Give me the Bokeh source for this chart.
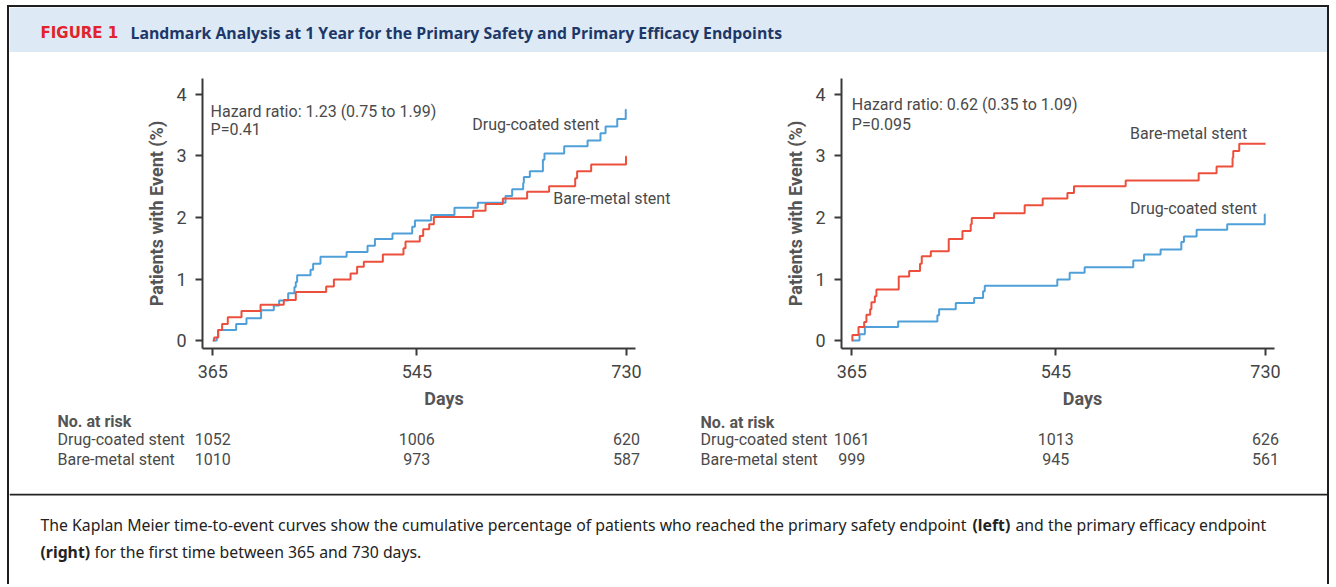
from bokeh.plotting import figure
from bokeh.layouts import column, row
from bokeh.models import Range1d, FixedTicker, Label, Span
from bokeh.embed import file_html
from bokeh.resources import INLINE

# ---------------- data ----------------
x_ticks = [365, 545, 730]
y_ticks = [0, 1, 2, 3, 4]
groups = ["Drug-coated stent", "Bare-metal stent"]

# Left panel: primary safety endpoint
left_dcs_days = [365, 368.5, 369.7, 385.6, 394.7, 407.6, 418.8, 423.5, 431.5, 437.0, 438.2, 439.4,
                 451.2, 453.5, 460.0, 483.0, 501.5, 508.0, 523.5, 540.9, 543.3, 557.6, 578.2, 598.8,
                 623.2, 629.1, 638.8, 639.4, 644.7, 656.2, 657.6, 675.0, 695.6, 707.0, 711.5, 721.8,
                 729.3, 730]
left_dcs_pct = [0, 0.05, 0.17, 0.27, 0.36, 0.49, 0.57, 0.65, 0.77, 0.87, 0.95, 1.06,
                1.15, 1.25, 1.36, 1.44, 1.54, 1.65, 1.74, 1.85, 1.95, 2.04, 2.16, 2.24,
                2.35, 2.46, 2.56, 2.66, 2.75, 2.94, 3.04, 3.16, 3.25, 3.37, 3.48, 3.60,
                3.75, 3.75]
left_bms_days = [365, 366.2, 369.7, 373.2, 378.2, 390.3, 407.1, 427.6, 438.2, 465.0, 471.8, 486.5,
                 492.3, 498.2, 515.0, 533.2, 535.0, 547.6, 550.6, 555.9, 560.0, 594.7, 605.6, 620.9,
                 642.3, 661.7, 684.7, 686.4, 698.8, 729.5, 730]
left_bms_pct = [0, 0.05, 0.17, 0.27, 0.38, 0.48, 0.58, 0.66, 0.79, 0.88, 0.99, 1.09,
                1.20, 1.28, 1.40, 1.50, 1.61, 1.70, 1.81, 1.89, 2.01, 2.11, 2.22, 2.31,
                2.42, 2.51, 2.64, 2.75, 2.86, 2.99, 2.99]

# Right panel: primary efficacy endpoint
right_dcs_days = [365, 371.8, 376.5, 405.9, 440.5, 442.0, 456.7, 472.9, 480.8, 482.3, 546.3,
                  557.2, 570.4, 613.3, 622.8, 637.4, 655.7, 658.0, 669.2, 696.2, 729.3, 730]
right_dcs_pct = [0, 0.10, 0.22, 0.31, 0.41, 0.51, 0.61, 0.69, 0.80, 0.89, 0.99,
                 1.10, 1.19, 1.30, 1.40, 1.48, 1.60, 1.69, 1.80, 1.89, 2.05, 2.05]
right_bms_days = [365, 365.5, 370.9, 375.9, 377.9, 381.2, 382.3, 385.3, 386.7, 406.4, 415.6,
                  425.2, 426.7, 434.7, 450.5, 462.6, 469.9, 470.8, 490.5, 517.5, 533.4, 555.2,
                  561.0, 606.6, 671.0, 686.8, 700.9, 701.5, 706.8, 730]
right_bms_pct = [0, 0.09, 0.22, 0.30, 0.42, 0.51, 0.62, 0.72, 0.83, 1.04, 1.13,
                 1.25, 1.37, 1.45, 1.65, 1.78, 1.89, 1.99, 2.07, 2.20, 2.31, 2.40,
                 2.51, 2.60, 2.72, 2.83, 2.97, 3.08, 3.20, 3.20]

left_risk_dcs = [1052, 1006, 620]
left_risk_bms = [1010, 973, 587]
right_risk_dcs = [1061, 1013, 626]
right_risk_bms = [999, 945, 561]

left_hr = "Hazard ratio: 1.23 (0.75 to 1.99)"
left_p = "P=0.41"
right_hr = "Hazard ratio: 0.62 (0.35 to 1.09)"
right_p = "P=0.095"

fig_label = "FIGURE 1"
title_text = "Landmark Analysis at 1 Year for the Primary Safety and Primary Efficacy Endpoints"
cap1a = "The Kaplan Meier time-to-event curves show the cumulative percentage of patients who reached the primary safety endpoint"
cap1b = "(left)"
cap1c = "and the primary efficacy endpoint"
cap2a = "(right)"
cap2b = "for the first time between 365 and 730 days."

# ---------------- style / layout ----------------
BLUE = "#4f9fd9"
RED = "#ec4f3c"
TXT = "#4a4a4a"
AX = "#3a3a3a"
FONT = "Roboto"
W = 1318
X0, X1 = 355.9, 737.9          # axis extent (days)
FRAME_W = 433
PPD = FRAME_W / (X1 - X0)      # pixels per day
Y0, Y1 = -0.13, 4.26
CH_H, TOP, BOT = 360, 26, 64   # chart figure height and borders
RISK_H = 81
LW, RW = 680, 638              # left / right panel widths
L_MBL, R_MBL = 193, 152        # left borders of the chart frames


def bare_fig(w, h, bg, xr=None):
    p = figure(width=w, height=h, x_range=xr if xr is not None else Range1d(0, w),
               y_range=Range1d(h, 0), output_backend="svg", toolbar_location=None,
               min_border=0, x_axis_location=None, y_axis_location=None)
    p.grid.visible = False
    p.outline_line_color = None
    p.background_fill_color = bg
    p.border_fill_color = bg
    return p


def txt(p, x, y, t, size="16px", color=TXT, style="normal", font=FONT, align="left"):
    p.add_layout(Label(x=x, y=y, text=t, text_font=font, text_font_size=size,
                       text_color=color, text_font_style=style, text_align=align,
                       text_baseline="middle"))


# header band
header = bare_fig(W, 45, "#ddeaf6")
txt(header, 31, 25, fig_label, size="15px", color="#e1232b", style="bold", font="DejaVu Sans")
txt(header, 121, 25, title_text, size="15.8px", color="#1d3868", style="bold", font="Open Sans")


def km_fig(width, mbl, dcs_d, dcs_p, bms_d, bms_p, hr, pv, hr_xy, p_y, dcs_lab, bms_lab):
    x_end = X0 + (width - mbl - 4) / PPD
    p = figure(width=width, height=CH_H, x_range=Range1d(X0, x_end), y_range=Range1d(Y0, Y1),
               output_backend="svg", toolbar_location=None,
               min_border_left=mbl, min_border_right=4, min_border_top=TOP, min_border_bottom=BOT)
    p.grid.visible = False
    p.outline_line_color = None
    p.xaxis.ticker = FixedTicker(ticks=x_ticks)
    p.yaxis.ticker = FixedTicker(ticks=y_ticks)
    p.xaxis.bounds = (X0, X1)
    for ax in (p.xaxis, p.yaxis):
        ax.axis_line_color = AX
        ax.axis_line_width = 2
        ax.major_tick_line_color = AX
        ax.major_tick_line_width = 2
        ax.major_tick_out = 7
        ax.major_tick_in = 0
        ax.minor_tick_line_color = None
        ax.major_label_text_font = FONT
        ax.major_label_text_font_size = "18px"
        ax.major_label_text_color = "#444444"
        ax.axis_label_text_font = FONT
        ax.axis_label_text_font_size = "18px"
        ax.axis_label_text_font_style = "bold"
        ax.axis_label_text_color = "#555555"
    p.xaxis.axis_label = "Days"
    p.yaxis.axis_label = "Patients with Event (%)"
    p.xaxis.major_label_standoff = 9
    p.yaxis.major_label_standoff = 9
    p.xaxis.axis_label_standoff = 7
    p.yaxis.axis_label_standoff = 6

    p.step(x=dcs_d, y=dcs_p, mode="after", line_color=BLUE, line_width=2)
    p.step(x=bms_d, y=bms_p, mode="after", line_color=RED, line_width=2)

    txt(p, hr_xy[0], hr_xy[1], hr)
    txt(p, hr_xy[0], p_y, pv)
    txt(p, dcs_lab[0], dcs_lab[1], groups[0])
    txt(p, bms_lab[0], bms_lab[1], groups[1])
    return p


def risk_fig(width, mbl, lab_x, nar_y, risk_dcs, risk_bms):
    start = X0 - mbl / PPD
    p = bare_fig(width, RISK_H, "white", xr=Range1d(start, start + width / PPD))
    txt(p, lab_x, nar_y, "No. at risk", style="bold", color="#555555")
    txt(p, lab_x, 26.5, groups[0])
    txt(p, lab_x, 46.5, groups[1])
    for xt, a, b in zip(x_ticks, risk_dcs, risk_bms):
        txt(p, xt, 26.5, str(a), align="center")
        txt(p, xt, 46.5, str(b), align="center")
    return p


left = km_fig(LW, L_MBL, left_dcs_days, left_dcs_pct, left_bms_days, left_bms_pct,
              left_hr, left_p, (363.0, 3.73), 3.43, (593.9, 3.51), (665.3, 2.31))
right = km_fig(RW, R_MBL, right_dcs_days, right_dcs_pct, right_bms_days, right_bms_pct,
               right_hr, right_p, (365.0, 3.83), 3.51, (610.4, 2.15), (610.4, 3.37))
left_risk = risk_fig(LW, L_MBL, 228.0, 9, left_risk_dcs, left_risk_bms)
right_risk = risk_fig(RW, R_MBL, 231.5, 9.5, right_risk_dcs, right_risk_bms)

# caption
cap = bare_fig(W, 91, "white")
cap.add_layout(Span(location=1, dimension="width", line_color="#222222", line_width=2))
CF = "Noto Sans"
txt(cap, 31, 31, cap1a, size="15.8px", color="#222222", font=CF)
txt(cap, 963, 31, cap1b, size="15.8px", color="#222222", font=CF, style="bold")
txt(cap, 1006, 31, cap1c, size="15.8px", color="#222222", font=CF)
txt(cap, 31, 58, cap2a, size="15.8px", color="#222222", font=CF, style="bold")
txt(cap, 85, 58, cap2b, size="15.8px", color="#222222", font=CF)

layout = column(header, row(left, right), row(left_risk, right_risk), cap,
                margin=(5, 0, 0, 7),
                styles={"border-left": "2px solid #1e1e1e", "border-right": "2px solid #1e1e1e",
                        "border-top": "2px solid #1e1e1e"})

open("out.html", "w").write(file_html(layout, INLINE))
